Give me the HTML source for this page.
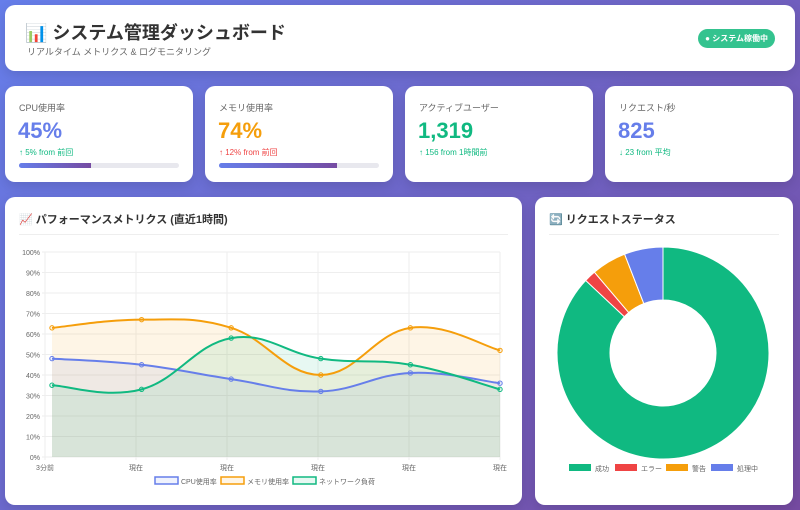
<!DOCTYPE html>
<html><head><meta charset="utf-8">
<style>
*{box-sizing:border-box;margin:0;padding:0}
body{width:800px;height:510px;overflow:hidden;font-family:"Liberation Sans","Noto Sans CJK JP",sans-serif;background:linear-gradient(135deg,#667eea 0%,#764ba2 100%);position:relative}
.card{position:absolute;background:#fff;border-radius:10px;box-shadow:0 4px 12px rgba(0,0,0,.12)}
.title{font-size:18px;font-weight:bold;color:#333;position:absolute;left:20px;top:14px}
.sub{font-size:9px;color:#666;position:absolute;left:22px;top:40px}
.badge{position:absolute;right:20px;top:24px;background:#34c38f;color:#fff;font-size:8px;font-weight:bold;border-radius:10px;padding:4px 7px}
.lab{position:absolute;left:14px;top:15px;font-size:9px;color:#666}
.val{position:absolute;left:13px;top:32px;font-size:22px;font-weight:bold}
.chg{position:absolute;left:14px;top:61px;font-size:8px}
.bar{position:absolute;left:14px;top:77px;width:160px;height:5px;border-radius:3px;background:#e8e8ee;overflow:hidden}
.bar div{height:100%;background:linear-gradient(90deg,#667eea,#764ba2)}
.h{position:absolute;left:14px;top:14px;font-size:11px;font-weight:bold;color:#333}
.hr{position:absolute;left:14px;right:14px;top:37px;border-top:1px solid #eee}
</style></head><body>
<div class="card" style="left:5px;top:5px;width:790px;height:66px">
<div class="title">📊 システム管理ダッシュボード</div>
<div class="sub">リアルタイム メトリクス &amp; ログモニタリング</div>
<div class="badge">● システム稼働中</div>
</div>

<div class="card" style="left:5px;top:86px;width:188px;height:96px">
<div class="lab">CPU使用率</div>
<div class="val" style="color:#667eea">45%</div>
<div class="chg" style="color:#10b981">↑ 5% from 前回</div>
<div class="bar"><div style="width:45%"></div></div>
</div>
<div class="card" style="left:205px;top:86px;width:188px;height:96px">
<div class="lab">メモリ使用率</div>
<div class="val" style="color:#f59e0b">74%</div>
<div class="chg" style="color:#ef4444">↑ 12% from 前回</div>
<div class="bar"><div style="width:74%"></div></div>
</div>
<div class="card" style="left:405px;top:86px;width:188px;height:96px">
<div class="lab">アクティブユーザー</div>
<div class="val" style="color:#10b981">1,319</div>
<div class="chg" style="color:#10b981">↑ 156 from 1時間前</div>
</div>
<div class="card" style="left:605px;top:86px;width:188px;height:96px">
<div class="lab">リクエスト/秒</div>
<div class="val" style="color:#667eea">825</div>
<div class="chg" style="color:#10b981">↓ 23 from 平均</div>
</div>

<div class="card" style="left:5px;top:197px;width:517px;height:308px">
<div class="h">📈 パフォーマンスメトリクス (直近1時間)</div>
<div class="hr"></div>
</div>
<div class="card" style="left:535px;top:197px;width:258px;height:308px">
<div class="h">🔄 リクエストステータス</div>
<div class="hr"></div>
</div>

<svg id="svg" width="800" height="510" style="position:absolute;left:0;top:0"></svg>
<script>
const xLabels=["3分前","現在","現在","現在","現在","現在"];
const yTicks=[0,10,20,30,40,50,60,70,80,90,100];
const cpu=[48,45,38,32,41,36];
const mem=[63,67,63,40,63,52];
const net=[35,33,58,48,45,33];
const donutLabels=["成功","エラー","警告","処理中"];
const donutValues=[870,18,53,59];
const NS="http://www.w3.org/2000/svg";
const svg=document.getElementById('svg');
function mk(t,a,p){const e=document.createElementNS(NS,t);for(const k in a)e.setAttribute(k,a[k]);(p||svg).appendChild(e);return e;}
const L=45,R=500,T=252,B=457;
const y=v=>B-(v/100)*(B-T);
const px=i=>52+i*(R-52)/(cpu.length-1);
const lx=i=>L+i*(R-L)/(xLabels.length-1);
yTicks.forEach(t=>{
 const g=mk('line',{x1:L-3,x2:R,y1:y(t),y2:y(t),stroke:'#eee'});
 
 
 const tx=mk('text',{x:L-5,y:y(t)+3,'text-anchor':'end','font-size':7,fill:'#666'});
 tx.textContent=t+'%';
 
 
});
xLabels.forEach((l,i)=>{
 const g=mk('line',{x1:lx(i),x2:lx(i),y1:T,y2:B+3,stroke:'#eee'});
 
 
 const tx=mk('text',{x:lx(i),y:B+13,'text-anchor':'middle','font-size':7,fill:'#666'});
 tx.textContent=l;
 
 
});
function curve(d){
 const p=d.map((v,i)=>[px(i),y(v)]);let s=`M${p[0][0]},${p[0][1]}`;
 for(let i=0;i<p.length-1;i++){const p0=p[Math.max(0,i-1)],p1=p[i],p2=p[i+1],p3=p[Math.min(p.length-1,i+2)];const k=0.4/2;
 s+=` C${p1[0]+(p2[0]-p0[0])*k},${p1[1]+(p2[1]-p0[1])*k} ${p2[0]-(p3[0]-p1[0])*k},${p2[1]-(p3[1]-p1[1])*k} ${p2[0]},${p2[1]}`;}
 return s;}
const series=[[cpu,'#667eea','rgba(102,126,234,0.1)','cpu'],[mem,'#f59e0b','rgba(245,158,11,0.1)','memory'],[net,'#10b981','rgba(16,185,129,0.1)','network']];
series.forEach(([d,c,f,n])=>{
 const a=mk('path',{d:curve(d)+` L${px(d.length-1)},${B} L${px(0)},${B} Z`,fill:f});
 
 
});
series.forEach(([d,c,f,n])=>{
 const l=mk('path',{d:curve(d),fill:'none',stroke:c,'stroke-width':2});
 
 
 d.forEach((v,i)=>{const pt=mk('circle',{cx:px(i),cy:y(v),r:2.2,fill:f,stroke:c,'stroke-width':1});
 
 });
});
const leg=[['CPU使用率',155,'#667eea','rgba(102,126,234,0.1)'],['メモリ使用率',221,'#f59e0b','rgba(245,158,11,0.1)'],['ネットワーク負荷',293,'#10b981','rgba(16,185,129,0.1)']];
leg.forEach(([t,x,c,f])=>{
 const r=mk('rect',{x:x,y:477,width:23,height:7,fill:f,stroke:c,'stroke-width':1.5});
 
 
 const tx=mk('text',{x:x+26,y:484,'font-size':7,fill:'#666'});tx.textContent=t;
 
 
});
const cx=663,cy=353,ro=106,ri=53,cols=['#10b981','#ef4444','#f59e0b','#667eea'];
const tot=donutValues.reduce((a,b)=>a+b,0);let ang=-Math.PI/2;
donutValues.forEach((v,i)=>{
 const a2=ang+v/tot*2*Math.PI,lg=(a2-ang)>Math.PI?1:0;
 const P=(r,a)=>`${cx+r*Math.cos(a)},${cy+r*Math.sin(a)}`;
 const s=mk('path',{d:`M${P(ro,ang)} A${ro},${ro} 0 ${lg} 1 ${P(ro,a2)} L${P(ri,a2)} A${ri},${ri} 0 ${lg} 0 ${P(ri,ang)} Z`,fill:cols[i],stroke:'#fff','stroke-width':1});
 
 
 ang=a2;
});
const dl=[569,615,666,711];
donutLabels.forEach((t,i)=>{
 const r=mk('rect',{x:dl[i],y:464,width:22,height:7,fill:cols[i]});
 
 
 const tx=mk('text',{x:dl[i]+26,y:471,'font-size':7,fill:'#666'});tx.textContent=t;
 
 
});
</script>
</body></html>
